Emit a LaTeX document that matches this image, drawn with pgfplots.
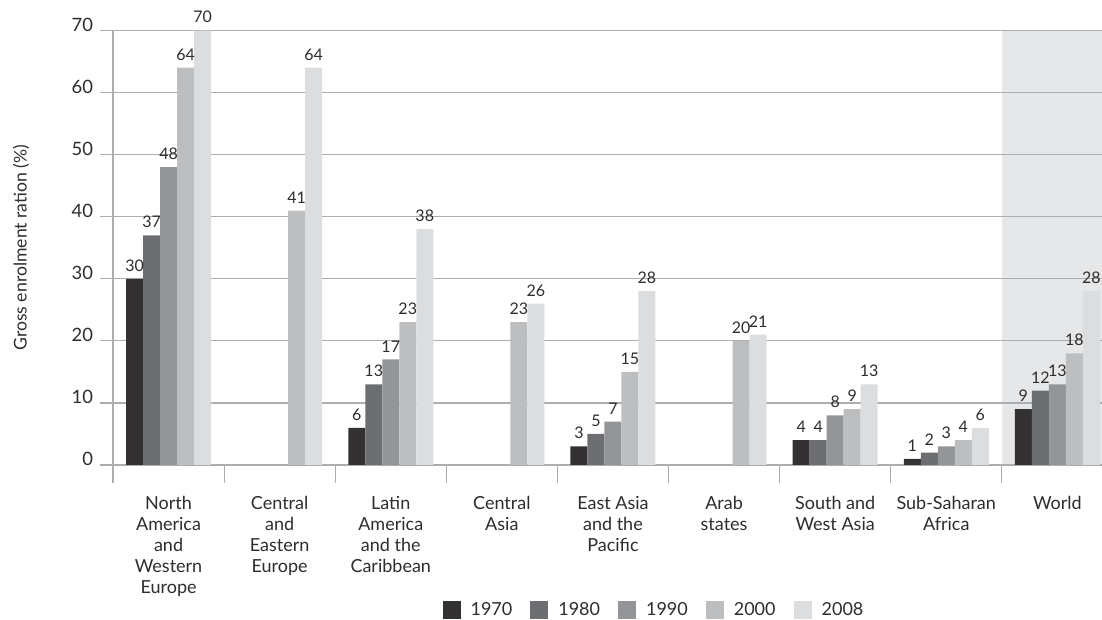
\documentclass[border=0pt]{standalone}
\usepackage{pgfplots}
\pgfplotsset{compat=1.18}
\usepackage{pgfplotstable}
\usepackage{fontspec}
\setmainfont{Lato}

% bar shades, one per survey year
\definecolor{cA}{HTML}{333132}
\definecolor{cB}{HTML}{6D6E71}
\definecolor{cC}{HTML}{939598}
\definecolor{cD}{HTML}{BCBEC0}
\definecolor{cE}{HTML}{DCDDDF}
\definecolor{worldbg}{HTML}{E6E7E8}
\definecolor{gridc}{HTML}{ABADB0}
\definecolor{textc}{HTML}{2E2C2D}

% gross enrolment ratio by region (nan = no data)
\pgfplotstableread{
x  a1970 a1980 a1990 a2000 a2008
0  30    37    48    64    70
1  nan   nan   nan   41    64
2  6     13    17    23    38
3  nan   nan   nan   23    26
4  3     5     7     15    28
5  nan   nan   nan   20    21
6  4     4     8     9     13
7  1     2     3     4     6
8  9     12    13    18    28
}\enrol

\begin{document}
\begin{tikzpicture}
\begin{axis}[
  set layers,
  scale only axis,
  width=494.5pt, height=217.25pt,
  at={(0pt,0pt)}, anchor=south west,
  xmin=-0.5, xmax=8.402, ymin=0, ymax=70,
  clip=false,
  ybar=0pt, bar width=8.5pt,
  axis x line*=bottom, axis y line*=left,
  axis line style={-, draw=gridc, line width=0.6pt},
  ytick={0,10,...,70},
  ymajorgrids,
  grid style={draw=gridc, line width=0.6pt},
  tick align=outside,
  major tick length=6.5pt,
  minor tick length=9pt,
  ytick style={draw=gridc, line width=0.6pt},
  xtick={0,...,8},
  minor xtick={-0.5,0.5,...,7.5},
  major x tick style={draw=none},
  minor x tick style={draw=gridc, line width=0.6pt},
  xticklabels={
    {North\\America\\and\\Western\\Europe},
    {Central\\and\\Eastern\\Europe},
    {Latin\\America\\and the\\Caribbean},
    {Central\\Asia},
    {East Asia\\and the\\Pacific},
    {Arab\\states},
    {South and\\West Asia},
    {Sub-Saharan\\Africa},
    {World}},
  xticklabel style={align=center, anchor=north, text=textc,
    font=\fontsize{9}{10.5}\selectfont, yshift=-5.5pt},
  yticklabel style={text=textc, font=\fontsize{9.2}{11}\selectfont, yshift=3pt},
  /pgf/number format/assume math mode=true,
  ylabel={Gross enrolment ration (\%)},
  ylabel style={at={(axis description cs:-0.093,0.5)}, anchor=center,
    text=textc, font=\fontsize{8.8}{10.5}\selectfont},
  nodes near coords,
  every node near coord/.append style={font=\fontsize{8}{9}\selectfont,
    text=textc, inner sep=1pt, yshift=2.5pt},
  legend columns=5,
  legend image code/.code={\fill[#1] (0pt,-4.5pt) rectangle (9pt,4.5pt);},
  legend style={at={(axis description cs:0.548,-0.334)}, anchor=center,
    draw=none, fill=none, font=\fontsize{9}{10.5}\selectfont, text=textc,
    /tikz/every odd column/.append style={column sep=3pt},
    /tikz/every even column/.append style={column sep=7pt}},
]
% highlight band behind the world aggregate
\begin{pgfonlayer}{axis background}
  \fill[worldbg] (axis cs:7.5,0) rectangle (axis cs:8.402,70);
\end{pgfonlayer}
\addplot[fill=cA, draw=none] table[x=x, y=a1970] {\enrol};
\addplot[fill=cB, draw=none] table[x=x, y=a1980] {\enrol};
\addplot[fill=cC, draw=none] table[x=x, y=a1990] {\enrol};
\addplot[fill=cD, draw=none] table[x=x, y=a2000] {\enrol};
\addplot[fill=cE, draw=none] table[x=x, y=a2008] {\enrol};
\legend{1970,1980,1990,2000,2008}
\end{axis}
\pgfresetboundingbox
\useasboundingbox (-56.5pt,-77.5pt) rectangle (494.5pt,232.5pt);
\end{tikzpicture}
\end{document}
